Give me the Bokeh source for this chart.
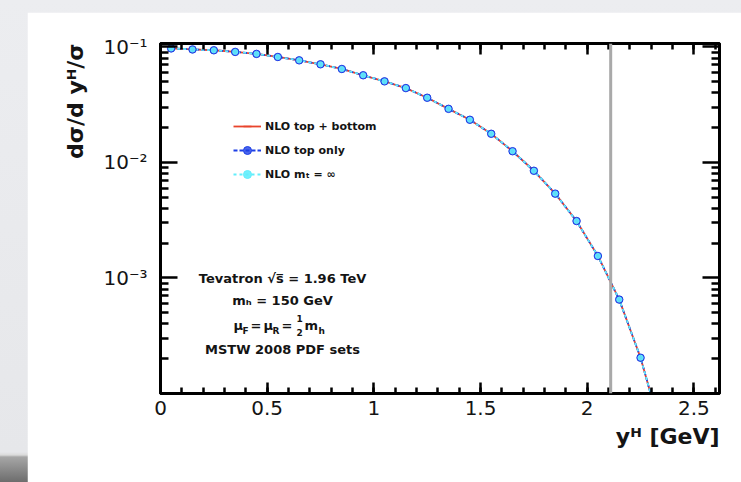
import math

from bokeh.plotting import figure
from bokeh.models import (FixedTicker, LinearAxis, LogAxis, Label, Span,
                          Legend, LegendItem, Title)
from bokeh.layouts import column
from bokeh.embed import file_html
from bokeh.resources import INLINE

# Higgs rapidity bin centres and normalised distributions (1/sigma dsigma/dy)
y_h = [0.05, 0.15, 0.25, 0.35, 0.45, 0.55, 0.65, 0.75, 0.85, 0.95, 1.05, 1.15,
       1.25, 1.35, 1.45, 1.55, 1.65, 1.75, 1.85, 1.95, 2.05, 2.15, 2.25, 2.35]

top_bottom = [0.0970, 0.0950, 0.0935, 0.0905, 0.0870, 0.0818, 0.0765, 0.0707,
              0.0644, 0.0568, 0.0503, 0.0440, 0.0363, 0.0291, 0.0234, 0.0177,
              0.0125, 0.00847, 0.00537, 0.00311, 0.00155, 0.00065, 0.000204,
              0.000045]

top_only = [0.0970, 0.0950, 0.0935, 0.0905, 0.0870, 0.0818, 0.0765, 0.0707,
            0.0644, 0.0568, 0.0503, 0.0440, 0.0363, 0.0291, 0.0234, 0.0177,
            0.0125, 0.00847, 0.00537, 0.00311, 0.00155, 0.00065, 0.000204,
            0.000045]

mt_inf = [0.0970, 0.0950, 0.0935, 0.0905, 0.0870, 0.0818, 0.0765, 0.0707,
          0.0644, 0.0568, 0.0503, 0.0440, 0.0363, 0.0291, 0.0234, 0.0177,
          0.0125, 0.00847, 0.00537, 0.00311, 0.00155, 0.00065, 0.000204,
          0.000045]

series_labels = ["NLO top + bottom", "NLO top only", "NLO m\u209c = \u221e"]

x_title = "y\u1d34 [GeV]"
y_title = "d\u03c3/d y\u1d34/\u03c3"

x_ticks = [0, 0.5, 1, 1.5, 2, 2.5]
x_tick_labels = ["0", "0.5", "1", "1.5", "2", "2.5"]
x_minor_ticks = [round(0.1 * i, 1) for i in range(1, 27)]

y_ticks = [1e-3, 1e-2, 1e-1]
y_tick_labels = ["10\u207b\u00b3", "10\u207b\u00b2", "10\u207b\u00b9"]
y_minor_ticks = [m * 10.0 ** e for e in (-4, -3, -2) for m in range(2, 10)]

rapidity_limit = 2.11
X_MAX = 2.62
Y_MIN, Y_MAX = 1e-4, 0.107

RED = "#e8442c"
BLUE = "#1d3fe6"
CYAN = "#62eefc"
INK = "#141414"
FONT = "DejaVu Sans"

p = figure(width=714, height=470, y_axis_type="log",
           x_range=(0, X_MAX), y_range=(Y_MIN, Y_MAX),
           output_backend="svg", toolbar_location=None,
           min_border_left=133, min_border_right=22,
           min_border_top=31, min_border_bottom=89)
p.xgrid.visible = False
p.ygrid.visible = False
p.outline_line_color = "black"
p.outline_line_width = 3
p.background_fill_color = "white"
p.border_fill_color = "white"

x_ticker = FixedTicker(ticks=x_ticks, minor_ticks=x_minor_ticks)
y_ticker = FixedTicker(ticks=y_ticks, minor_ticks=y_minor_ticks)


def style_axis(ax, major_in, minor_in):
    ax.axis_line_color = "black"
    ax.axis_line_width = 3
    ax.major_tick_line_color = "black"
    ax.major_tick_line_width = 2.5
    ax.minor_tick_line_color = "black"
    ax.minor_tick_line_width = 2.5
    ax.major_tick_in = major_in
    ax.major_tick_out = 0
    ax.minor_tick_in = minor_in
    ax.minor_tick_out = 0
    ax.major_label_text_font = FONT
    ax.major_label_text_color = INK


xb = p.xaxis[0]
xb.ticker = x_ticker
xb.major_label_overrides = dict(zip(x_ticks, x_tick_labels))
style_axis(xb, 11, 6)
xb.major_label_text_font_size = "20px"
xb.major_label_standoff = 7

yl = p.yaxis[0]
yl.ticker = y_ticker
yl.major_label_overrides = dict(zip(y_ticks, y_tick_labels))
style_axis(yl, 17, 8)
yl.major_label_text_font_size = "20px"
yl.major_label_standoff = 13

# mirrored tick marks on the top and right edges, without labels
xt = LinearAxis(ticker=x_ticker)
style_axis(xt, 11, 6)
xt.major_label_overrides = {t: "" for t in x_ticks}
xt.major_label_standoff = 0
xt.major_label_text_font_size = "1px"
p.add_layout(xt, "above")

yr = LogAxis(ticker=y_ticker)
style_axis(yr, 17, 8)
yr.major_label_overrides = {t: "" for t in y_ticks}
yr.major_label_standoff = 0
yr.major_label_text_font_size = "1px"
p.add_layout(yr, "right")

# axis titles, pushed to the high end of each axis
p.add_layout(Title(text=x_title, align="right", standoff=9,
                   text_font=FONT, text_font_size="22px",
                   text_font_style="bold", text_color=INK), "below")
p.add_layout(Title(text=y_title, align="right", standoff=26,
                   text_font=FONT, text_font_size="22px",
                   text_font_style="bold", text_color=INK), "left")

# distributions: solid top+bottom, dashed top-only, dashed infinite top mass
r1 = p.line(y_h, top_bottom, line_color=RED, line_width=1.8)
r2 = p.line(y_h, top_only, line_color=BLUE, line_width=1.8, line_dash="4 2")
r3 = p.line(y_h, mt_inf, line_color=CYAN, line_width=1.8, line_dash="3 3")
r1m = p.scatter(y_h, top_bottom, marker="dash", angle=math.pi / 2, size=6,
                line_color=RED, line_width=1.5)
r2m = p.scatter(y_h, top_only, marker="circle", size=7.5,
                fill_color=BLUE, line_color=BLUE, fill_alpha=0.8)
r3m = p.scatter(y_h, mt_inf, marker="circle", size=5,
                fill_color=CYAN, line_color=CYAN, fill_alpha=0.9)

p.add_layout(Span(location=rapidity_limit, dimension="height",
                  line_color="#a9a9a9", line_width=3))

legend = Legend(items=[LegendItem(label=series_labels[0], renderers=[r1, r1m]),
                       LegendItem(label=series_labels[1], renderers=[r2, r2m]),
                       LegendItem(label=series_labels[2], renderers=[r3, r3m])],
                location="top_left", orientation="vertical",
                glyph_width=28, glyph_height=20, label_height=20,
                spacing=4, padding=0, margin=73, label_standoff=4,
                border_line_alpha=0, background_fill_alpha=0,
                label_text_font=FONT, label_text_font_style="bold",
                label_text_font_size="11px", label_text_color=INK)
p.add_layout(legend)

# frame-relative text placement: x from frame left, y from frame top (canvas px)
FRAME_LEFT, FRAME_TOP = 160, 43


def note(text, cx, cy, size, align="center", style="bold"):
    lab = Label(x=0, y=Y_MAX, x_units="data", y_units="data",
                x_offset=cx - FRAME_LEFT, y_offset=FRAME_TOP - cy,
                text=text, text_font=FONT, text_font_size=f"{size}px",
                text_font_style=style, text_color=INK, text_align=align,
                text_baseline="middle")
    p.add_layout(lab)
    return lab


# run conditions
note("Tevatron \u221as\u0305 = 1.96 TeV", 282, 278, 13)
note("m\u2095 = 150 GeV", 282, 300, 13)
note("\u03bc", 233, 325, 13, align="left")
note("F", 242, 330, 9, align="left")
note("=", 250, 325, 13, align="left")
note("\u03bc", 263, 325, 13, align="left")
note("R", 272, 330, 9, align="left")
note("=", 281, 325, 13, align="left")
note("1", 296, 318, 9, align="left")
note("2", 296, 332, 9, align="left")
note("m", 304, 325, 13, align="left")
note("h", 318, 330, 9, align="left")
note("MSTW 2008 PDF sets", 282, 349, 13)

page = column(p, styles={
    "padding-top": "12px",
    "padding-left": "27px",
    "background": "linear-gradient(to bottom, #ecedf0 0px, #e6e7ea 452px, "
                  "#dadada 455px, #a6a6a6 457px, #6d6d6d 482px)",
})

with open("out.html", "w", encoding="utf-8") as f:
    f.write(file_html(page, INLINE))
